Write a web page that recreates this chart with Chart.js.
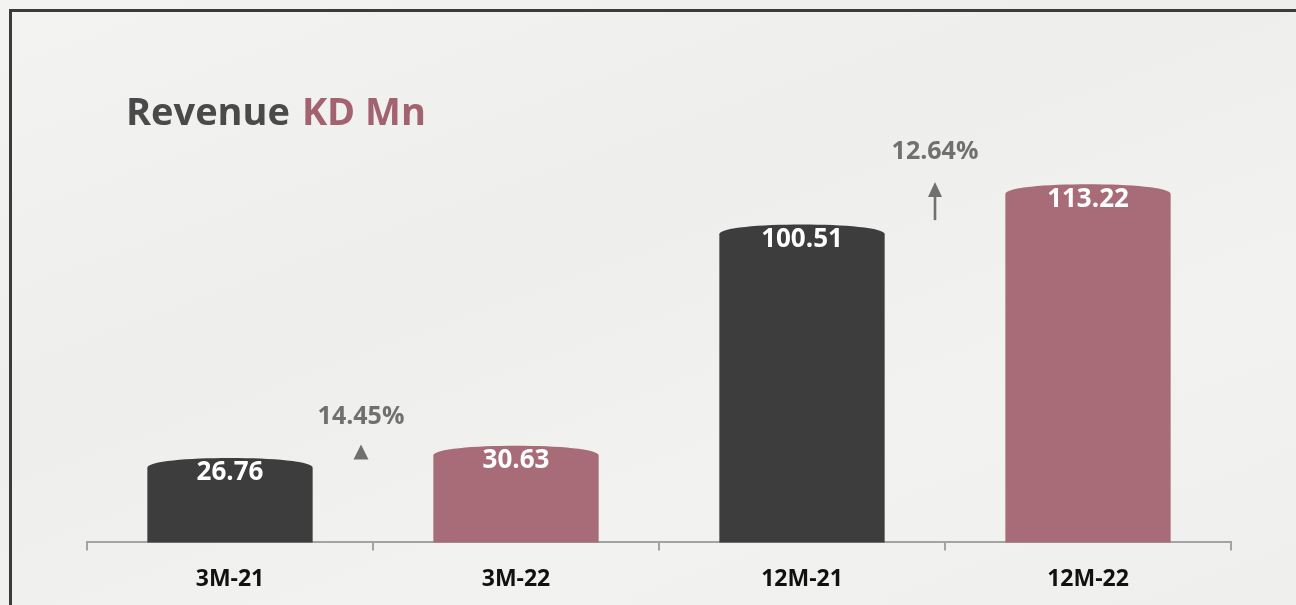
<!DOCTYPE html>
<html>
<head>
<meta charset="utf-8">
<script src="https://cdn.jsdelivr.net/npm/chart.js@4/dist/chart.umd.min.js"></script>
<style>
    html, body { margin: 0; padding: 0; background: #f1f1f0; }
    #wrap { position: relative; width: 1296px; height: 605px; overflow: hidden;
            background: linear-gradient(160deg, #f3f3f2 0%, #eeeeed 40%, #f2f2f1 70%, #efefee 100%); }
    #frame { position: absolute; left: 9px; top: 9px; width: 1400px; height: 700px;
             border-top: 3px solid #3b3b3b; border-left: 3px solid #3b3b3b; }
    canvas { position: absolute; left: 0; top: 0; }
</style>
</head>
<body>
<div id="wrap">
    <div id="frame"></div>
    <canvas id="revenue-chart" width="1296" height="605"></canvas>
</div>
<script>
var periods = ["3M-21", "3M-22", "12M-21", "12M-22"];
var revenue = [26.76, 30.63, 100.51, 113.22];
var barColors = ["#3d3d3d", "#a76c78", "#3d3d3d", "#a76c78"];
var changeLabels = ["14.45%", "12.64%"];

var darkText = "#4a4a4a";
var mauve = "#a3626f";

// draws bars with a flat dome on top instead of the default rectangle
var domeBars = {
    id: "domeBars",
    beforeDatasetDraw: function (chart, args) {
        var ctx = chart.ctx;
        var meta = args.meta;
        meta.data.forEach(function (bar, i) {
            var p = bar.getProps(["x", "y", "base", "width"], true);
            var left = p.x - p.width / 2;
            var right = p.x + p.width / 2;
            var top = p.y;
            ctx.save();
            ctx.fillStyle = barColors[i];
            ctx.beginPath();
            ctx.moveTo(left, p.base);
            ctx.lineTo(left, top + 10);
            ctx.bezierCurveTo(left, top - 3, right, top - 3, right, top + 10);
            ctx.lineTo(right, p.base);
            ctx.closePath();
            ctx.fill();

            ctx.fillStyle = "#ffffff";
            ctx.font = "bold 26px 'Open Sans'";
            ctx.textAlign = "center";
            ctx.textBaseline = "middle";
            ctx.fillText(revenue[i].toFixed(2), p.x, top + 15);
            ctx.restore();
        });
        return false;
    },
    afterDraw: function (chart) {
        var ctx = chart.ctx;
        var bars = chart.getDatasetMeta(0).data;
        ctx.save();

        // title
        ctx.textBaseline = "alphabetic";
        ctx.textAlign = "left";
        ctx.font = "bold 38px 'Open Sans'";
        ctx.fillStyle = darkText;
        ctx.fillText("Revenue", 126, 125);
        var w = ctx.measureText("Revenue ").width;
        ctx.fillStyle = mauve;
        ctx.fillText("KD Mn", 126 + w + 2, 125);

        // growth labels between each pair
        ctx.font = "bold 25px 'Open Sans'";
        ctx.fillStyle = "#707070";
        ctx.textAlign = "center";
        ctx.textBaseline = "middle";

        var a = bars[0], b = bars[1];
        var cx = (a.x + b.x) / 2 - 12;
        ctx.fillText(changeLabels[0], cx, b.y - 29);
        ctx.beginPath();
        ctx.moveTo(cx, b.y - 1);
        ctx.lineTo(cx + 7.5, b.y + 14);
        ctx.lineTo(cx - 7.5, b.y + 14);
        ctx.closePath();
        ctx.fill();

        a = bars[2]; b = bars[3];
        cx = (a.x + b.x) / 2 - 10;
        ctx.fillText(changeLabels[1], cx, b.y - 32);
        ctx.beginPath();
        ctx.moveTo(cx, b.y - 2);
        ctx.lineTo(cx + 7, b.y + 13);
        ctx.lineTo(cx - 7, b.y + 13);
        ctx.closePath();
        ctx.fill();
        ctx.fillRect(cx - 1.3, b.y + 12, 2.6, 24);

        ctx.restore();
    }
};

new Chart(document.getElementById("revenue-chart"), {
    type: "bar",
    data: {
        labels: periods,
        datasets: [{
            data: revenue,
            backgroundColor: barColors,
            categoryPercentage: 1,
            barPercentage: 0.578
        }]
    },
    options: {
        responsive: false,
        animation: false,
        layout: {
            padding: { left: 87, right: 65, top: 131, bottom: -3 }
        },
        scales: {
            x: {
                border: { display: true, color: "#a3a3a3", width: 2 },
                grid: { display: true, drawOnChartArea: false, drawTicks: true, tickLength: 8, color: "#a3a3a3", lineWidth: 2, offset: true },
                ticks: { color: "#111111", padding: 15, font: { family: "'Open Sans'", size: 23, weight: "bold" } }
            },
            y: {
                display: false,
                min: 0,
                max: 130
            }
        },
        plugins: {
            legend: { display: false },
            tooltip: { enabled: false }
        }
    },
    plugins: [domeBars]
});
</script>
</body>
</html>
